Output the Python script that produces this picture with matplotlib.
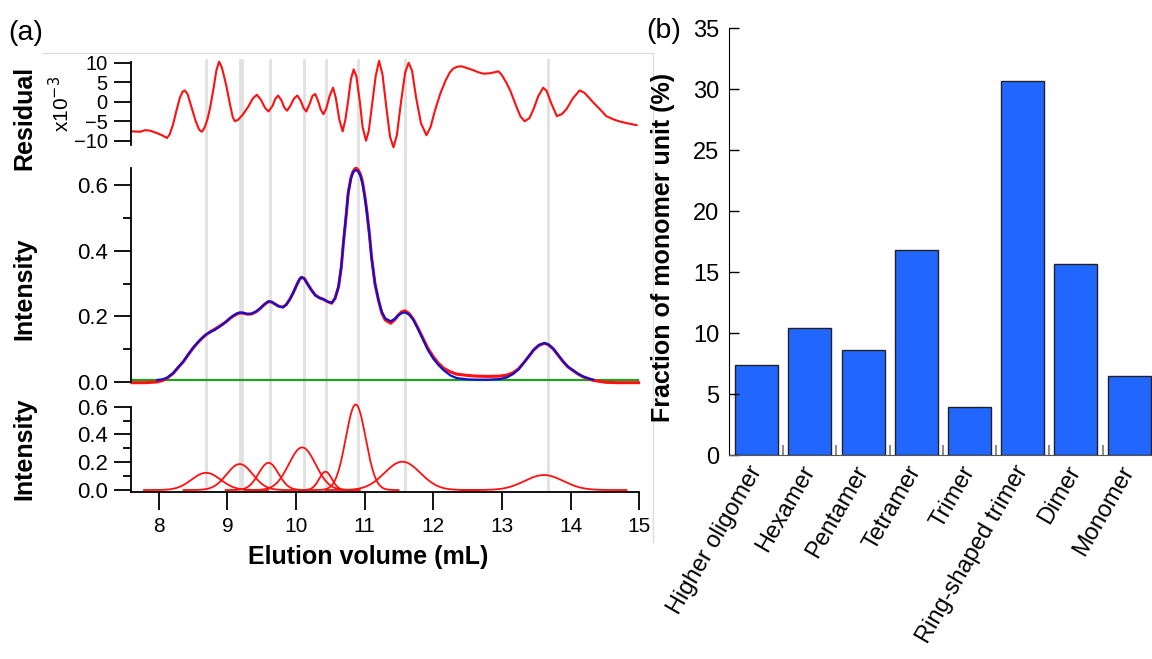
import numpy as np
import matplotlib.pyplot as plt
from matplotlib.lines import Line2D
from matplotlib.transforms import blended_transform_factory

plt.rcParams['font.family'] = ['Liberation Sans', 'DejaVu Sans']

# ---- (a) residual, x1e-3 ----
res_x = [7.61, 7.73, 7.80, 7.87, 7.97, 8.05, 8.12, 8.16, 8.21, 8.26, 8.31, 8.35, 8.38, 8.42,
         8.48, 8.54, 8.59, 8.63, 8.67, 8.71, 8.75, 8.80, 8.84, 8.88, 8.92, 8.96, 8.99, 9.04,
         9.08, 9.11, 9.16, 9.23, 9.30, 9.37, 9.43, 9.49, 9.55, 9.60, 9.66, 9.70, 9.74, 9.79,
         9.83, 9.87, 9.92, 9.97, 10.02, 10.07, 10.11, 10.15, 10.20, 10.24, 10.28, 10.32, 10.36,
         10.40, 10.44, 10.49, 10.54, 10.58, 10.63, 10.68, 10.72, 10.76, 10.80, 10.84, 10.88,
         10.93, 10.97, 11.02, 11.06, 11.11, 11.16, 11.21, 11.26, 11.32, 11.37, 11.42, 11.47,
         11.53, 11.59, 11.64, 11.69, 11.75, 11.82, 11.90, 11.96, 12.02, 12.10, 12.18, 12.24,
         12.29, 12.35, 12.41, 12.50, 12.58, 12.65, 12.73, 12.82, 12.90, 12.95, 13.00, 13.06,
         13.12, 13.20, 13.27, 13.33, 13.40, 13.46, 13.53, 13.60, 13.65, 13.72, 13.80, 13.87,
         13.94, 14.03, 14.13, 14.20, 14.27, 14.33, 14.42, 14.52, 14.62, 14.72, 14.82, 14.96]
res_y = [-7.6, -7.7, -7.3, -7.4, -8.0, -8.6, -9.3, -8.4, -5.8, -2.2, 1.1, 2.6, 2.9, 2.0,
         -1.5, -5.0, -7.2, -7.7, -6.6, -4.5, -1.5, 3.5, 8.0, 10.3, 8.8, 6.0, 3.7, -0.8,
         -4.0, -5.0, -4.6, -3.2, -1.4, 0.8, 1.8, 0.5, -1.6, -2.5, -1.0, 0.8, 1.6, 0.3,
         -1.5, -2.3, -1.0, 0.8, 1.6, 0.2, -1.6, -2.5, -0.5, 1.5, 2.0, 0.3, -2.0,
         -3.2, -1.8, 1.5, 3.6, 1.0, -4.5, -7.6, -4.5, 0.3, 5.8, 8.3, 6.5,
         0.0, -6.5, -10.0, -7.5, -0.5, 6.5, 10.5, 7.0, -2.0, -9.0, -11.7, -8.5,
         0.0, 7.5, 10.0, 8.0, 1.0, -5.5, -8.6, -6.5, -2.5, 2.0, 5.5, 7.5,
         8.5, 9.0, 9.1, 8.6, 8.1, 7.6, 7.2, 7.3, 7.6, 7.8, 6.8, 5.0,
         2.9, -0.8, -3.8, -5.0, -4.2, -1.9, 1.5, 3.6, 2.8, -0.5, -3.7, -3.2,
         -1.9, 0.8, 2.9, 2.3, 1.0, -0.2, -1.8, -3.7, -4.5, -5.1, -5.5, -6.0]

# ---- (a) measured trace and fit ----
meas_x = [7.61, 7.80, 7.97, 8.05, 8.12, 8.21, 8.28, 8.36, 8.43, 8.50, 8.57, 8.63, 8.69, 8.75,
          8.81, 8.87, 8.93, 8.99, 9.04, 9.09, 9.14, 9.18, 9.23, 9.29, 9.35, 9.42, 9.48, 9.54,
          9.60, 9.65, 9.69, 9.75, 9.81, 9.86, 9.91, 9.96, 10.01, 10.05, 10.08, 10.12, 10.16,
          10.22, 10.28, 10.34, 10.40, 10.46, 10.52, 10.57, 10.62, 10.66, 10.69, 10.73, 10.76,
          10.80, 10.83, 10.86, 10.88, 10.91, 10.94, 10.97, 11.00, 11.03, 11.07, 11.10, 11.15,
          11.20, 11.25, 11.30, 11.38, 11.44, 11.49, 11.54, 11.59, 11.65, 11.71, 11.78, 11.85,
          11.92, 12.00, 12.07, 12.15, 12.25, 12.34, 12.50, 12.63, 12.80, 12.97, 13.07, 13.16,
          13.24, 13.31, 13.39, 13.46, 13.54, 13.62, 13.68, 13.75, 13.82, 13.89, 13.96, 14.04,
          14.11, 14.18, 14.26, 14.33, 14.45, 14.52, 14.70, 14.99]
meas_y = [-0.002, -0.002, 0.000, 0.004, 0.011, 0.026, 0.043, 0.062, 0.083, 0.103, 0.120, 0.133,
          0.144, 0.153, 0.160, 0.168, 0.176, 0.185, 0.194, 0.201, 0.207, 0.210, 0.210, 0.207,
          0.207, 0.214, 0.224, 0.236, 0.245, 0.243, 0.238, 0.231, 0.228, 0.236, 0.252, 0.272,
          0.295, 0.312, 0.319, 0.316, 0.302, 0.282, 0.265, 0.257, 0.252, 0.245, 0.240, 0.255,
          0.290, 0.350, 0.422, 0.505, 0.575, 0.622, 0.641, 0.650, 0.651, 0.645, 0.632, 0.608,
          0.570, 0.524, 0.450, 0.382, 0.300, 0.250, 0.210, 0.189, 0.179, 0.190, 0.204, 0.214,
          0.217, 0.208, 0.191, 0.163, 0.133, 0.103, 0.077, 0.058, 0.042, 0.031, 0.024, 0.020,
          0.018, 0.017, 0.018, 0.021, 0.028, 0.040, 0.057, 0.078, 0.097, 0.112, 0.118, 0.113,
          0.100, 0.081, 0.062, 0.046, 0.034, 0.024, 0.016, 0.010, 0.005, 0.001, -0.001,
          -0.002, -0.002]

fit_x = [7.98, 8.05, 8.12, 8.21, 8.28, 8.36, 8.43, 8.50, 8.57, 8.63, 8.69, 8.75, 8.81, 8.87,
         8.93, 8.99, 9.04, 9.09, 9.14, 9.18, 9.23, 9.29, 9.35, 9.42, 9.48, 9.54, 9.60, 9.65,
         9.69, 9.75, 9.81, 9.86, 9.91, 9.96, 10.01, 10.05, 10.08, 10.12, 10.16, 10.22, 10.28,
         10.34, 10.40, 10.46, 10.52, 10.57, 10.62, 10.66, 10.69, 10.73, 10.76, 10.80, 10.83,
         10.86, 10.88, 10.91, 10.94, 10.97, 11.00, 11.03, 11.07, 11.10, 11.15, 11.20, 11.25,
         11.30, 11.38, 11.44, 11.49, 11.54, 11.59, 11.65, 11.71, 11.78, 11.85, 11.92, 12.00,
         12.07, 12.15, 12.25, 12.34, 12.50, 12.63, 12.80, 12.97, 13.07, 13.16, 13.24, 13.31,
         13.39, 13.46, 13.54, 13.62, 13.68, 13.75, 13.82, 13.89, 13.96, 14.04, 14.11, 14.18,
         14.26, 14.33]
fit_y = [0.006, 0.008, 0.013, 0.027, 0.044, 0.063, 0.084, 0.104, 0.121, 0.134, 0.145, 0.152,
         0.158, 0.166, 0.175, 0.185, 0.195, 0.203, 0.209, 0.212, 0.211, 0.207, 0.208, 0.215,
         0.225, 0.237, 0.246, 0.244, 0.238, 0.230, 0.228, 0.236, 0.252, 0.272, 0.296, 0.313,
         0.319, 0.315, 0.301, 0.281, 0.264, 0.256, 0.252, 0.245, 0.241, 0.256, 0.292, 0.352,
         0.425, 0.508, 0.575, 0.620, 0.638, 0.645, 0.645, 0.640, 0.627, 0.603, 0.566, 0.520,
         0.446, 0.378, 0.300, 0.252, 0.214, 0.194, 0.185, 0.193, 0.203, 0.210, 0.212, 0.205,
         0.189, 0.160, 0.129, 0.098, 0.071, 0.053, 0.036, 0.020, 0.012, 0.008, 0.007, 0.007,
         0.009, 0.014, 0.024, 0.038, 0.056, 0.078, 0.098, 0.113, 0.119, 0.114, 0.101, 0.082,
         0.063, 0.047, 0.035, 0.025, 0.017, 0.011, 0.007]

baseline = 0.006

# ---- (a) fitted gaussian components ----
peak_center = [8.69, 9.18, 9.60, 10.09, 10.43, 10.87, 11.55, 13.61]
peak_height = [0.124, 0.187, 0.196, 0.307, 0.132, 0.616, 0.204, 0.108]
peak_sigma = [0.21, 0.19, 0.145, 0.195, 0.093, 0.145, 0.26, 0.28]
peak_lines = [8.69, 9.18, 9.21, 9.62, 10.12, 10.44, 10.90, 11.59, 13.67]

# ---- (b) bar chart ----
species = ['Higher oligomer', 'Hexamer', 'Pentamer', 'Tetramer', 'Trimer',
           'Ring-shaped trimer', 'Dimer', 'Monomer']
fraction = [7.4, 10.4, 8.6, 16.8, 3.9, 30.7, 15.7, 6.5]

W, H = 1152, 659


def box(x0, y0, x1, y1):
    return [x0 / W, 1 - y1 / H, (x1 - x0) / W, (y1 - y0) / H]


fig = plt.figure(figsize=(W / 100, H / 100), dpi=100)
ax_res = fig.add_axes(box(131.2, 62, 639.3, 145))
ax_mid = fig.add_axes(box(131.2, 168, 639.3, 385.3))
ax_bot = fig.add_axes(box(131.2, 406.7, 639.3, 491.7))
ax_bar = fig.add_axes(box(729, 28.3, 1152, 455))

red = '#ff1010'
for ax in (ax_res, ax_mid, ax_bot):
    ax.set_facecolor('none')
    ax.set_xlim(7.6, 15.0)
    for s in ('top', 'right'):
        ax.spines[s].set_visible(False)
    ax.spines['left'].set_linewidth(1.3)
    ax.tick_params(axis='y', which='major', direction='out', length=12, width=1.3,
                   labelsize=16, pad=5)
    ax.tick_params(axis='y', which='minor', direction='out', length=6, width=1.3)
for ax in (ax_res, ax_mid):
    ax.spines['bottom'].set_visible(False)
    ax.set_xticks([])

# residual
ax_res.plot(res_x, res_y, color=red, lw=1.5, clip_on=False)
ax_res.set_ylim(-11.1, 10.2)
ax_res.set_yticks([-10, -5, 0, 5, 10])
ax_res.tick_params(axis='y', labelsize=14.5)
fig.text(61 / W, 1 - 104 / H, 'x10$^{-3}$', rotation=90, fontsize=15,
         ha='center', va='center')

# measured and fit
ax_mid.axhline(baseline, color='#22a022', lw=1.6, zorder=1)
ax_mid.plot(meas_x, meas_y, color=red, lw=2.2, zorder=2, clip_on=False)
ax_mid.plot(fit_x, fit_y, color='#1010d0', lw=1.6, zorder=3)
ax_mid.set_ylim(-0.01, 0.652)
ax_mid.spines['left'].set_bounds(0, 0.652)
ax_mid.set_yticks([0.0, 0.2, 0.4, 0.6])
ax_mid.set_yticks([0.1, 0.3, 0.5], minor=True)

# components
for c, h, s in zip(peak_center, peak_height, peak_sigma):
    xx = np.linspace(c - 4.3 * s, c + 4.3 * s, 300)
    ax_bot.plot(xx, h * np.exp(-0.5 * ((xx - c) / s) ** 2), color=red, lw=1.3, clip_on=False)
ax_bot.set_ylim(-0.012, 0.6)
ax_bot.set_yticks([0.0, 0.2, 0.4, 0.6])
ax_bot.set_yticks([0.1, 0.3, 0.5], minor=True)
ax_bot.set_xticks(range(8, 16))
ax_bot.spines['bottom'].set_linewidth(1.3)
ax_bot.tick_params(axis='x', direction='out', length=13, width=1.3, labelsize=15, pad=5)

fig.text(368 / W, 1 - 557 / H, 'Elution volume (mL)', fontsize=18, fontweight='bold',
         ha='center', va='center')
fig.text(24 / W, 1 - 118 / H, 'Residual', rotation=90, fontsize=18, fontweight='bold',
         ha='center', va='center')
fig.text(24 / W, 1 - 289 / H, 'Intensity', rotation=90, fontsize=18, fontweight='bold',
         ha='center', va='center')
fig.text(24 / W, 1 - 449 / H, 'Intensity', rotation=90, fontsize=18, fontweight='bold',
         ha='center', va='center')

# grey peak markers running through the three stacked panels
trans = blended_transform_factory(ax_bot.transData, fig.transFigure)
for xv in peak_lines:
    fig.add_artist(Line2D([xv, xv], [1 - 60 / H, 1 - 490 / H], transform=trans,
                          color='#e0e0e0', lw=2, zorder=-1))

# faint frame around panel (a)
fig.add_artist(Line2D([43 / W, 653 / W], [1 - 53 / H, 1 - 53 / H], transform=fig.transFigure,
                      color='#dddddd', lw=1, zorder=-1))
fig.add_artist(Line2D([653 / W, 653 / W], [1 - 53 / H, 1 - 542 / H], transform=fig.transFigure,
                      color='#dddddd', lw=1, zorder=-1))

# (b) bars
pos = np.arange(len(species))
ax_bar.bar(pos, fraction, width=0.81, color='#2166ff', edgecolor='#222222', linewidth=1)
ax_bar.set_xlim(-0.52, 7.43)
ax_bar.set_ylim(0, 35)
ax_bar.set_yticks(range(0, 36, 5))
ax_bar.spines['top'].set_visible(False)
ax_bar.spines['right'].set_visible(False)
ax_bar.spines['bottom'].set_color('#555555')
ax_bar.tick_params(axis='y', direction='in', length=7.5, width=1, labelsize=17, pad=7)
ax_bar.set_xticks(pos)
ax_bar.set_xticklabels(species, rotation=60, ha='right', va='center', rotation_mode='anchor',
                       fontsize=17)
ax_bar.tick_params(axis='x', which='major', length=0, pad=9)
ax_bar.set_xticks(pos[:-1] + 0.5, minor=True)
ax_bar.tick_params(axis='x', which='minor', direction='in', length=7, width=1.2,
                   color='#777777')
fig.text(663 / W, 1 - 247 / H, 'Fraction of monomer unit (%)', rotation=90, fontsize=18,
         fontweight='bold', ha='center', va='center')

fig.text(26 / W, 1 - 33 / H, '(a)', fontsize=20.5, ha='center', va='center')
fig.text(664 / W, 1 - 31 / H, '(b)', fontsize=20.5, ha='center', va='center')

fig.savefig('out.png', dpi=100)
